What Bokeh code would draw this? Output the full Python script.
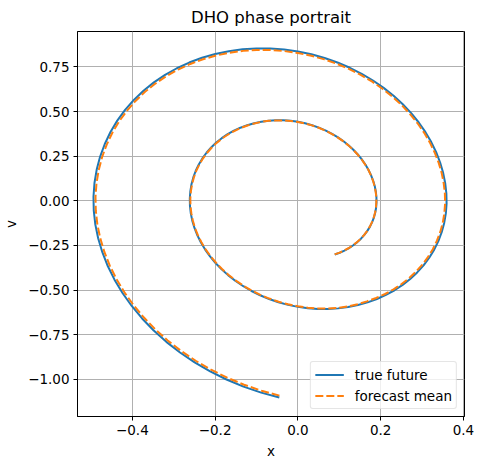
from bokeh.plotting import figure
from bokeh.models import FixedTicker, Range1d, Legend, LegendItem
from bokeh.embed import file_html
from bokeh.resources import INLINE

# true future trajectory (x, v)
true_x = [0.0890, 0.1010, 0.1125, 0.1234, 0.1338, 0.1435, 0.1524, 0.1605, 0.1678, 0.1741,
          0.1794, 0.1837, 0.1869, 0.1890, 0.1899, 0.1897, 0.1882, 0.1856, 0.1817, 0.1766,
          0.1704, 0.1630, 0.1544, 0.1447, 0.1340, 0.1222, 0.1095, 0.0959, 0.0815, 0.0663,
          0.0505, 0.0341, 0.0173, 0.0000, -0.0175, -0.0352, -0.0530, -0.0707, -0.0883, -0.1055,
          -0.1224, -0.1388, -0.1546, -0.1697, -0.1840, -0.1973, -0.2096, -0.2208, -0.2308, -0.2394,
          -0.2468, -0.2527, -0.2571, -0.2599, -0.2612, -0.2608, -0.2588, -0.2552, -0.2499, -0.2429,
          -0.2343, -0.2241, -0.2123, -0.1990, -0.1843, -0.1681, -0.1506, -0.1319, -0.1121, -0.0912,
          -0.0695, -0.0469, -0.0237, 0.0000, 0.0241, 0.0484, 0.0729, 0.0972, 0.1214, 0.1451,
          0.1684, 0.1909, 0.2127, 0.2334, 0.2530, 0.2713, 0.2882, 0.3036, 0.3173, 0.3293,
          0.3393, 0.3474, 0.3535, 0.3574, 0.3592, 0.3587, 0.3559, 0.3509, 0.3436, 0.3340,
          0.3222, 0.3082, 0.2920, 0.2737, 0.2534, 0.2312, 0.2071, 0.1814, 0.1541, 0.1255,
          0.0955, 0.0645, 0.0326, 0.0000, -0.0332, -0.0666, -0.1002, -0.1337, -0.1669, -0.1996,
          -0.2316, -0.2626, -0.2924, -0.3209, -0.3479, -0.3731, -0.3963, -0.4175, -0.4364, -0.4528,
          -0.4666, -0.4778, -0.4861, -0.4915, -0.4939, -0.4932, -0.4895, -0.4826, -0.4725, -0.4594,
          -0.4431, -0.4238, -0.4015, -0.3764, -0.3484, -0.3179, -0.2848, -0.2495, -0.2120, -0.1725,
          -0.1314, -0.0887, -0.0449]
true_v = [-0.3008, -0.2908, -0.2788, -0.2649, -0.2491, -0.2315, -0.2122, -0.1912, -0.1686, -0.1447,
          -0.1194, -0.0930, -0.0656, -0.0374, -0.0084, 0.0216, 0.0521, 0.0828, 0.1134, 0.1438,
          0.1738, 0.2033, 0.2318, 0.2595, 0.2859, 0.3109, 0.3344, 0.3562, 0.3761, 0.3939,
          0.4096, 0.4229, 0.4338, 0.4422, 0.4479, 0.4509, 0.4511, 0.4485, 0.4430, 0.4346,
          0.4234, 0.4093, 0.3925, 0.3729, 0.3507, 0.3259, 0.2986, 0.2691, 0.2374, 0.2037,
          0.1681, 0.1309, 0.0924, 0.0526, 0.0118, -0.0290, -0.0700, -0.1112, -0.1523, -0.1932,
          -0.2335, -0.2731, -0.3115, -0.3486, -0.3840, -0.4177, -0.4493, -0.4785, -0.5052, -0.5292,
          -0.5503, -0.5682, -0.5828, -0.5940, -0.6017, -0.6057, -0.6060, -0.6025, -0.5951, -0.5839,
          -0.5688, -0.5499, -0.5273, -0.5010, -0.4711, -0.4378, -0.4012, -0.3615, -0.3189, -0.2736,
          -0.2258, -0.1759, -0.1241, -0.0706, -0.0159, 0.0408, 0.0985, 0.1565, 0.2144, 0.2720,
          0.3287, 0.3844, 0.4384, 0.4906, 0.5406, 0.5880, 0.6324, 0.6736, 0.7112, 0.7449,
          0.7745, 0.7998, 0.8204, 0.8361, 0.8469, 0.8526, 0.8530, 0.8480, 0.8377, 0.8219,
          0.8007, 0.7741, 0.7422, 0.7052, 0.6631, 0.6162, 0.5647, 0.5088, 0.4489, 0.3851,
          0.3179, 0.2476, 0.1747, 0.0994, 0.0224, -0.0548, -0.1323, -0.2102, -0.2881, -0.3654,
          -0.4416, -0.5164, -0.5890, -0.6591, -0.7262, -0.7899, -0.8496, -0.9049, -0.9554, -1.0008,
          -1.0405, -1.0744, -1.1020]

# forecast mean trajectory (x, v)
fc_x = [0.0888, 0.1008, 0.1123, 0.1232, 0.1335, 0.1432, 0.1521, 0.1602, 0.1675, 0.1738,
        0.1790, 0.1834, 0.1865, 0.1886, 0.1895, 0.1893, 0.1878, 0.1852, 0.1813, 0.1763,
        0.1701, 0.1626, 0.1541, 0.1444, 0.1337, 0.1220, 0.1093, 0.0957, 0.0813, 0.0662,
        0.0504, 0.0341, 0.0173, 0.0000, -0.0175, -0.0352, -0.0529, -0.0706, -0.0881, -0.1052,
        -0.1218, -0.1382, -0.1538, -0.1689, -0.1831, -0.1963, -0.2086, -0.2197, -0.2296, -0.2382,
        -0.2456, -0.2514, -0.2558, -0.2586, -0.2599, -0.2595, -0.2575, -0.2539, -0.2487, -0.2417,
        -0.2331, -0.2230, -0.2112, -0.1980, -0.1834, -0.1673, -0.1498, -0.1313, -0.1115, -0.0908,
        -0.0692, -0.0467, -0.0236, 0.0000, 0.0240, 0.0482, 0.0725, 0.0967, 0.1208, 0.1441,
        0.1667, 0.1890, 0.2106, 0.2311, 0.2505, 0.2686, 0.2853, 0.3006, 0.3141, 0.3260,
        0.3359, 0.3440, 0.3500, 0.3538, 0.3556, 0.3551, 0.3523, 0.3474, 0.3402, 0.3307,
        0.3190, 0.3051, 0.2891, 0.2709, 0.2509, 0.2288, 0.2050, 0.1796, 0.1526, 0.1242,
        0.0945, 0.0639, 0.0323, 0.0000, -0.0329, -0.0660, -0.0992, -0.1324, -0.1652, -0.1976,
        -0.2293, -0.2599, -0.2895, -0.3177, -0.3444, -0.3694, -0.3923, -0.4133, -0.4320, -0.4483,
        -0.4619, -0.4730, -0.4812, -0.4866, -0.4890, -0.4883, -0.4846, -0.4777, -0.4678, -0.4548,
        -0.4387, -0.4196, -0.3975, -0.3726, -0.3449, -0.3147, -0.2820, -0.2470, -0.2099, -0.1708,
        -0.1301, -0.0878, -0.0445]
fc_v = [-0.3002, -0.2902, -0.2782, -0.2644, -0.2486, -0.2311, -0.2118, -0.1908, -0.1683, -0.1444,
        -0.1192, -0.0928, -0.0655, -0.0373, -0.0084, 0.0215, 0.0520, 0.0826, 0.1132, 0.1435,
        0.1735, 0.2028, 0.2313, 0.2589, 0.2853, 0.3103, 0.3337, 0.3555, 0.3753, 0.3931,
        0.4088, 0.4221, 0.4329, 0.4413, 0.4470, 0.4500, 0.4502, 0.4476, 0.4421, 0.4331,
        0.4213, 0.4073, 0.3905, 0.3711, 0.3489, 0.3242, 0.2971, 0.2677, 0.2362, 0.2026,
        0.1673, 0.1303, 0.0919, 0.0523, 0.0117, -0.0288, -0.0697, -0.1106, -0.1515, -0.1923,
        -0.2323, -0.2717, -0.3099, -0.3468, -0.3821, -0.4156, -0.4471, -0.4761, -0.5027, -0.5266,
        -0.5475, -0.5653, -0.5799, -0.5911, -0.5987, -0.6027, -0.6030, -0.5994, -0.5921, -0.5795,
        -0.5631, -0.5444, -0.5220, -0.4960, -0.4664, -0.4334, -0.3972, -0.3579, -0.3157, -0.2709,
        -0.2235, -0.1742, -0.1229, -0.0699, -0.0157, 0.0404, 0.0975, 0.1549, 0.2123, 0.2693,
        0.3254, 0.3805, 0.4340, 0.4857, 0.5352, 0.5821, 0.6261, 0.6668, 0.7041, 0.7375,
        0.7668, 0.7918, 0.8122, 0.8278, 0.8384, 0.8441, 0.8445, 0.8395, 0.8293, 0.8136,
        0.7927, 0.7663, 0.7348, 0.6981, 0.6565, 0.6101, 0.5591, 0.5038, 0.4444, 0.3812,
        0.3147, 0.2451, 0.1730, 0.0984, 0.0222, -0.0542, -0.1310, -0.2081, -0.2852, -0.3617,
        -0.4372, -0.5112, -0.5831, -0.6525, -0.7189, -0.7820, -0.8411, -0.8958, -0.9458, -0.9907,
        -1.0301, -1.0637, -1.0910]

x_ticks = [-0.4, -0.2, 0.0, 0.2, 0.4]
x_tick_labels = ["\u22120.4", "\u22120.2", "0.0", "0.2", "0.4"]
y_ticks = [-1.0, -0.75, -0.5, -0.25, 0.0, 0.25, 0.5, 0.75]
y_tick_labels = ["\u22121.00", "\u22120.75", "\u22120.50", "\u22120.25", "0.00", "0.25", "0.50", "0.75"]

FONT = "DejaVu Sans"

p = figure(frame_width=387, frame_height=385,
           min_border_left=74, min_border_right=12, min_border_top=24, min_border_bottom=45,
           x_range=Range1d(-0.5325, 0.4025), y_range=Range1d(-1.208, 0.948),
           output_backend="svg", toolbar_location=None, title="DHO phase portrait")

p.title.align = "center"
p.title.text_font = FONT
p.title.text_font_size = "16.5px"
p.title.text_font_style = "normal"
p.title.text_color = "black"

p.outline_line_color = "black"
p.outline_line_width = 1
p.background_fill_color = "white"
p.border_fill_color = "white"

for ax, ticks, labels in ((p.xaxis[0], x_ticks, x_tick_labels), (p.yaxis[0], y_ticks, y_tick_labels)):
    ax.ticker = FixedTicker(ticks=ticks)
    ax.major_label_overrides = {t: l for t, l in zip(ticks, labels)}
    ax.minor_tick_line_color = None
    ax.major_tick_out = 4
    ax.major_tick_in = 0
    ax.major_tick_line_color = "black"
    ax.axis_line_color = "black"
    ax.major_label_text_font = FONT
    ax.major_label_text_font_size = "13.5px"
    ax.major_label_text_color = "black"
    ax.axis_label_text_font = FONT
    ax.axis_label_text_font_size = "13.5px"
    ax.axis_label_text_font_style = "normal"
    ax.axis_label_text_color = "black"
    ax.major_label_standoff = 4

p.xaxis.axis_label = "x"
p.yaxis.axis_label = "v"
p.xaxis.axis_label_standoff = 5
p.yaxis.axis_label_standoff = 6

p.grid.grid_line_color = "#b0b0b0"
p.grid.grid_line_width = 1
p.xgrid.ticker = FixedTicker(ticks=x_ticks)
p.ygrid.ticker = FixedTicker(ticks=y_ticks)

r_true = p.line(true_x, true_v, line_color="#1f77b4", line_width=2, line_join="round")
r_fc = p.line(fc_x, fc_v, line_color="#ff7f0e", line_width=2, line_dash="8 3")

legend = Legend(items=[LegendItem(label="true future", renderers=[r_true]),
                       LegendItem(label="forecast mean", renderers=[r_fc])],
                location="bottom_right")
legend.label_text_font = FONT
legend.label_text_font_size = "13.5px"
legend.label_text_color = "black"
legend.border_line_color = "#cccccc"
legend.border_line_width = 1
legend.border_radius = 3
legend.background_fill_alpha = 0.8
legend.margin = 7
legend.padding = 4
legend.spacing = 4
legend.glyph_width = 29
legend.glyph_height = 17
legend.label_height = 17
legend.label_standoff = 11
p.add_layout(legend, "center")

open("out.html", "w").write(file_html(p, INLINE))
